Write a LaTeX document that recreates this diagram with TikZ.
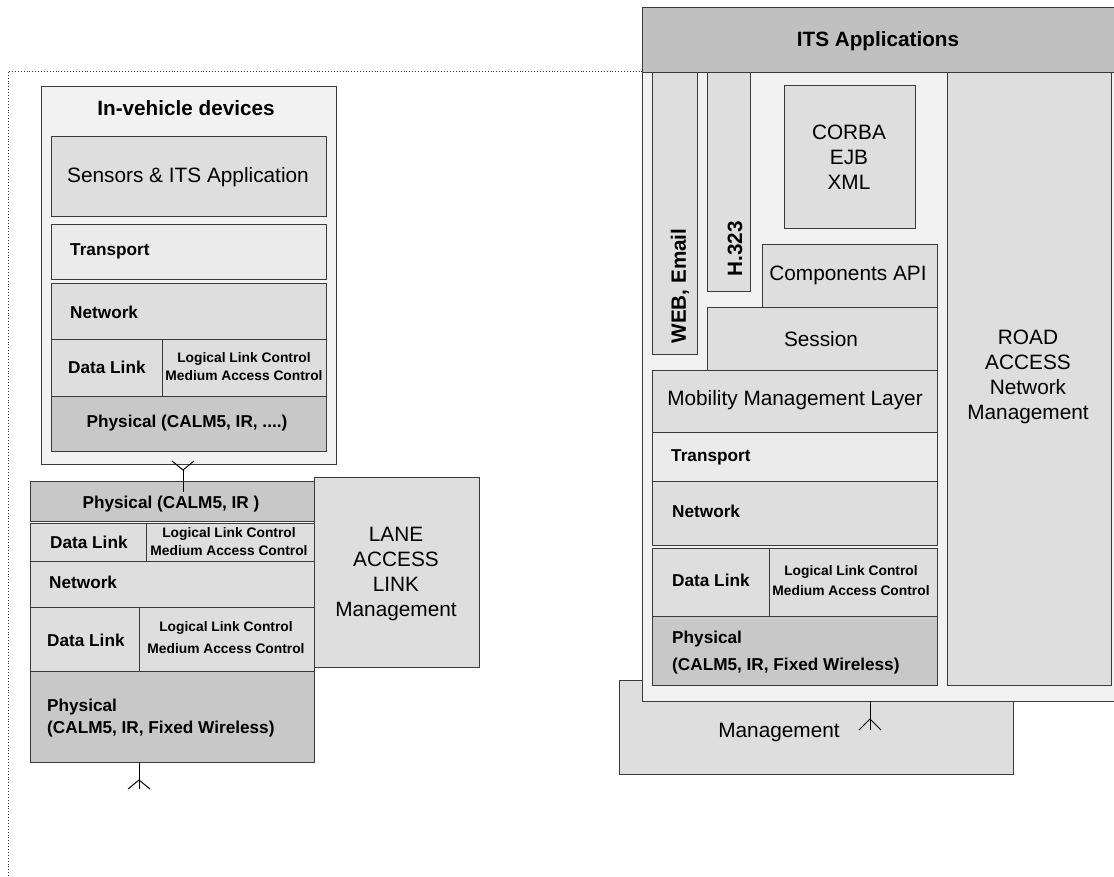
\documentclass[tikz,border=0pt]{standalone}
\usepackage{fontspec}
\setmainfont{Liberation Sans}
\usetikzlibrary{fit}
\definecolor{panel}{HTML}{F2F2F2}
\definecolor{layer}{HTML}{DEDEDE}
\definecolor{tport}{HTML}{EBEBEB}
\definecolor{phys}{HTML}{C8C8C8}
\definecolor{head}{HTML}{C0C0C0}
\definecolor{edge}{HTML}{3A3A3A}
\newcommand\layerbox[6]{\node[box, fill=#6, fit={(#2,#3) (#4,#5)}] (#1) {};}
\begin{document}
\begin{tikzpicture}[x=1pt,y=-1pt,
  box/.style={draw=edge, line width=1pt, inner sep=0pt, outer sep=0pt},
  lab/.style={inner sep=0pt, align=center, font=\fontsize{20.8}{25}\selectfont},
  blab/.style={inner sep=0pt, align=left, font=\bfseries\fontsize{17.2}{21}\selectfont},
  hlab/.style={inner sep=0pt, font=\bfseries\fontsize{20.7}{25}\selectfont},
  slab/.style={inner sep=0pt, align=center, font=\bfseries\fontsize{13.8}{18}\selectfont},
  ant/.style={draw=black, line width=1pt}]
\useasboundingbox (0,0) rectangle (1114,876);
\clip (0,0) rectangle (1114,876);

% dotted frame of the roadside area
\draw[dotted, draw=black!80, line width=0.9pt] (8,876) -- (8,71) -- (642,71);

% ---------- in-vehicle stack ----------
\layerbox{ivd}{41}{86}{336}{464}{panel}
\layerbox{sens}{51}{136}{326}{216}{layer}
\layerbox{tr1}{51}{224}{326}{279}{tport}
\layerbox{nw1}{51}{283}{326}{339}{layer}
\layerbox{dl1}{51}{339}{162}{396}{layer}
\layerbox{llc1}{162}{339}{326}{396}{layer}
\layerbox{ph1}{51}{396}{326}{451}{phys}
\node[hlab] (ivdt) at (186,108) {In-vehicle devices};
\node[lab] (senst) at (188,177) {Sensors \& ITS Application};
\node[blab, anchor=west] (tr1t) at (70,251) {Transport};
\node[blab, anchor=west] (nw1t) at (70,312) {Network};
\node[blab, anchor=west] (dl1t) at (68,367) {Data Link};
\node[slab] (llc1t) at (244,367) {Logical Link Control\\Medium Access Control};
\node[blab] (ph1t) at (187,423) {Physical (CALM5, IR, ....)};

% ---------- lane access stack ----------
\layerbox{lane}{314}{477}{479}{667}{layer}
\layerbox{ph2}{30}{481}{314}{521}{phys}
\layerbox{dl2}{30}{523}{146}{561}{layer}
\layerbox{llc2}{146}{523}{314}{561}{layer}
\layerbox{nw2}{30}{561}{314}{607}{layer}
\layerbox{dl3}{30}{607}{139}{671}{layer}
\layerbox{llc3}{139}{607}{314}{671}{layer}
\layerbox{ph3}{30}{671}{314}{762}{phys}
\node[blab] (ph2t) at (171,504) {Physical (CALM5, IR )};
\node[blab, anchor=west] (dl2t) at (50,542) {Data Link};
\node[slab] (llc2t) at (229,542) {Logical Link Control\\Medium Access Control};
\node[blab, anchor=west] (nw2t) at (49,582) {Network};
\node[blab, anchor=west] (dl3t) at (47,640) {Data Link};
\node[slab] (llc3t) at (226,638) {Logical Link Control\\[4pt]Medium Access Control};
\node[blab, anchor=west] (ph3t) at (47,718) {Physical\\[1pt](CALM5, IR, Fixed Wireless)};
\node[lab] (lanet) at (396,574) {LANE\\ACCESS\\LINK\\Management};

% ---------- roadside stack ----------
\layerbox{mgmt}{619}{680}{1013}{774}{layer}
\layerbox{rpanel}{642}{7}{1118}{701}{panel}
\layerbox{its}{642}{7}{1118}{72}{head}
\layerbox{web}{652}{72}{697}{354}{layer}
\layerbox{h323}{707}{72}{750}{291}{layer}
\layerbox{corba}{784}{85}{915}{228}{layer}
\layerbox{capi}{762}{244}{937}{307}{layer}
\layerbox{sess}{707}{307}{937}{370}{layer}
\layerbox{mob}{652}{370}{937}{432}{layer}
\layerbox{tr3}{652}{432}{937}{481}{tport}
\layerbox{nw3}{652}{481}{937}{545}{layer}
\layerbox{dl4}{652}{548}{769}{616}{layer}
\layerbox{llc4}{769}{548}{937}{616}{layer}
\layerbox{ph4}{652}{616}{937}{685}{phys}
\layerbox{road}{947}{72}{1111}{685}{layer}
\node[hlab] (itst) at (878,41) {ITS Applications};
\node[hlab, rotate=90] (webt) at (680,286) {WEB, Email};
\node[hlab, rotate=90] (h323t) at (735,249) {H.323};
\node[lab] (corbat) at (849,157) {CORBA\\EJB\\XML};
\node[lab] (capit) at (848,275) {Components API};
\node[lab] (sesst) at (821,339) {Session};
\node[lab] (mobt) at (795,400) {Mobility Management Layer};
\node[blab, anchor=west] (tr3t) at (671,457) {Transport};
\node[blab, anchor=west] (nw3t) at (672,511) {Network};
\node[blab, anchor=west] (dl4t) at (672,580) {Data Link};
\node[slab] (llc4t) at (851,581) {Logical Link Control\\[2pt]Medium Access Control};
\node[blab, anchor=west] (ph4t) at (672,653) {Physical\\[6pt](CALM5, IR, Fixed Wireless)};
\node[lab] (roadt) at (1028,377) {ROAD\\ACCESS\\Network\\Management};
\node[lab] (mgmtt) at (779,732) {Management};

% ---------- antennas ----------
\coordinate (a1j) at (183,470);
\coordinate (a1b) at (183,492);
\coordinate (a1l) at (172,461);
\coordinate (a1r) at (194,461);
\draw[ant] (a1j) -- (a1b);
\draw[ant] (a1l) -- (a1j) -- (a1r);

\coordinate (a2t) at (139,762);
\coordinate (a2j) at (139,780);
\coordinate (a2b) at (139,789);
\coordinate (a2l) at (128,789);
\coordinate (a2r) at (150,789);
\draw[ant] (ph3.south -| a2t) -- (a2b);
\draw[ant] (a2l) -- (a2j) -- (a2r);

\coordinate (a3j) at (870,719);
\coordinate (a3b) at (870,730);
\coordinate (a3l) at (859,730);
\coordinate (a3r) at (881,730);
\draw[ant] (rpanel.south -| a3j) -- (a3b);
\draw[ant] (a3l) -- (a3j) -- (a3r);
\end{tikzpicture}
\end{document}
